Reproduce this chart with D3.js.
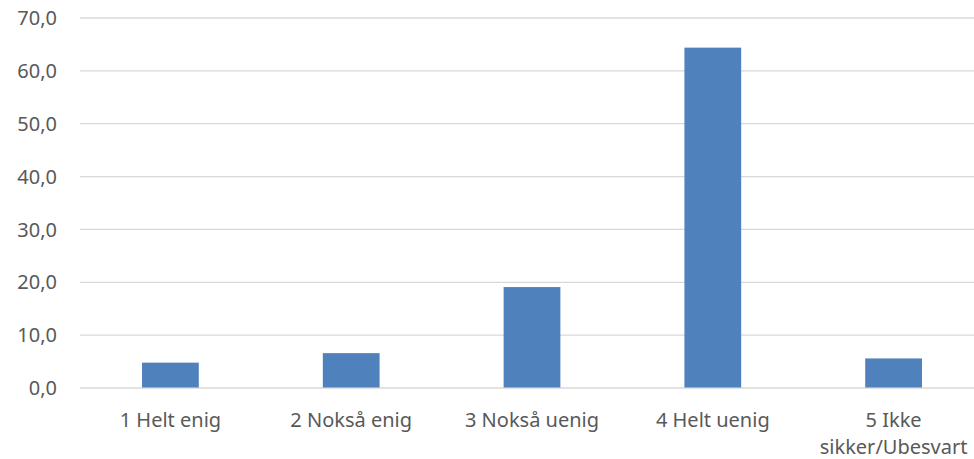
<!DOCTYPE html>
<html>
<head>
<meta charset="utf-8">
<script src="https://cdn.jsdelivr.net/npm/d3@7/dist/d3.min.js"></script>
<style>
  html, body { margin: 0; padding: 0; background: #fff; }
  svg { display: block; }
  text { font-family: "Noto Sans", "Open Sans", sans-serif; fill: #595959; }
</style>
</head>
<body>
<svg id="chart" width="974" height="459"></svg>
<script>
const categories = ["1 Helt enig", "2 Nokså enig", "3 Nokså uenig", "4 Helt uenig", "5 Ikke sikker/Ubesvart"];
const categoryLines = [["1 Helt enig"], ["2 Nokså enig"], ["3 Nokså uenig"], ["4 Helt uenig"], ["5 Ikke", "sikker/Ubesvart"]];
const values = [4.7, 6.5, 19.0, 64.3, 5.5];
const yTicks = [0, 10, 20, 30, 40, 50, 60, 70];

const svg = d3.select("#chart");
const mLeft = 80, mRight = 984, mTop = 17.5, mBottom = 387.5;

const x = d3.scaleBand()
  .domain(categories)
  .range([mLeft, mRight])
  .paddingInner(0.686)
  .paddingOuter(0.343);

const y = d3.scaleLinear().domain([0, 70]).range([mBottom, mTop]);

// gridlines
const yAxis = d3.axisLeft(y)
  .tickValues(yTicks)
  .tickSize(-(mRight - mLeft))
  .tickPadding(23)
  .tickFormat(d => d3.format(".1f")(d).replace(".", ","));

const gy = svg.append("g")
  .attr("transform", `translate(${mLeft},0)`)
  .call(yAxis);
gy.select(".domain").remove();
gy.selectAll(".tick line").attr("stroke", "#d9d9d9").attr("stroke-width", 1.3);
gy.selectAll(".tick text")
  .attr("fill", "#595959")
  .style("font-size", "20px")
  .attr("dy", "0.36em");

// bars
svg.append("g").selectAll("rect")
  .data(values)
  .join("rect")
  .attr("x", (d, i) => x(categories[i]))
  .attr("width", x.bandwidth())
  .attr("y", d => y(d))
  .attr("height", d => y(0) - y(d))
  .attr("fill", "#4f81bd");

// x axis labels
const xAxis = d3.axisBottom(x).tickSize(0).tickPadding(0).tickFormat("");
const gx = svg.append("g")
  .attr("transform", `translate(0,${mBottom})`)
  .call(xAxis);
gx.select(".domain").remove();
gx.selectAll(".tick").each(function(d, i) {
  const t = d3.select(this).append("text")
    .attr("text-anchor", "middle")
    .attr("fill", "#595959")
    .style("font-size", "20px");
  categoryLines[i].forEach((line, j) => {
    t.append("tspan")
      .attr("x", 0)
      .attr("y", 39 + j * 27)
      .text(line);
  });
});
</script>
</body>
</html>
